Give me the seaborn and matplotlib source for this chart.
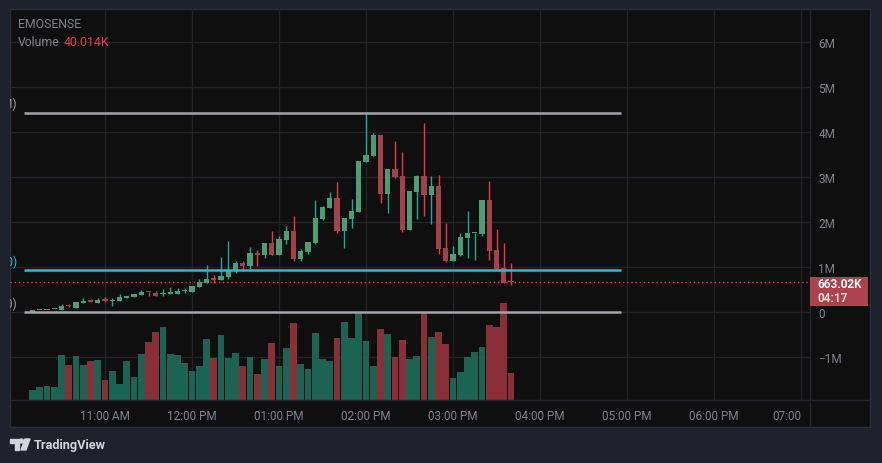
import matplotlib.pyplot as plt
import matplotlib.patches as mpatches
from matplotlib.lines import Line2D
import numpy as np
import pandas as pd
import seaborn as sns

# 5-minute candles, prices in millions
open_ = [0.01, 0.04, 0.04, 0.06, 0.05, 0.14, 0.09, 0.20, 0.27, 0.20,
         0.29, 0.24, 0.24, 0.31, 0.33, 0.38, 0.45, 0.42, 0.39, 0.41,
         0.40, 0.46, 0.44, 0.56, 0.64, 0.74, 0.71, 0.78, 0.91, 1.09,
         1.02, 1.31, 1.27, 1.53, 1.27, 1.60, 1.80, 1.18, 1.33, 1.53,
         2.07, 2.31, 2.53, 1.80, 2.07, 2.22, 3.33, 3.47, 3.93, 2.62,
         3.18, 3.02, 1.82, 2.67, 3.02, 2.60, 2.80, 1.42, 1.13, 1.27,
         1.64, 1.75, 1.73, 2.49, 1.38, 0.98, 0.67]
high = [0.05, 0.05, 0.05, 0.07, 0.18, 0.17, 0.22, 0.31, 0.29, 0.31,
        0.33, 0.31, 0.40, 0.36, 0.40, 0.49, 0.45, 0.47, 0.51, 0.56,
        0.53, 0.53, 0.58, 0.73, 1.04, 0.82, 1.22, 1.58, 1.13, 1.13,
        1.44, 1.38, 1.53, 1.80, 1.69, 1.91, 2.13, 1.40, 1.56, 2.49,
        2.36, 2.67, 2.89, 2.09, 2.51, 3.36, 4.42, 3.98, 3.93, 3.18,
        3.80, 3.56, 2.69, 3.04, 4.20, 3.02, 3.04, 1.98, 1.47, 1.76,
        2.24, 1.76, 2.49, 2.91, 1.84, 1.53, 1.09]
low = [0.01, 0.04, 0.04, 0.06, 0.05, 0.11, 0.09, 0.20, 0.22, 0.20,
       0.22, 0.13, 0.24, 0.31, 0.33, 0.38, 0.36, 0.36, 0.36, 0.41,
       0.40, 0.42, 0.44, 0.56, 0.64, 0.64, 0.71, 0.73, 0.87, 0.91,
       0.96, 1.02, 1.20, 1.27, 1.27, 1.51, 1.13, 1.13, 1.29, 1.51,
       2.04, 2.31, 1.76, 1.42, 1.87, 2.22, 3.33, 3.47, 2.42, 2.20,
       2.98, 1.78, 1.82, 2.07, 2.13, 1.96, 1.29, 1.11, 1.13, 1.24,
       1.20, 1.16, 1.69, 1.16, 0.96, 0.64, 0.60]
close = [0.05, 0.05, 0.05, 0.07, 0.13, 0.13, 0.22, 0.24, 0.22, 0.27,
         0.24, 0.27, 0.33, 0.36, 0.40, 0.44, 0.44, 0.36, 0.40, 0.43,
         0.47, 0.47, 0.58, 0.67, 0.73, 0.72, 0.80, 0.91, 1.09, 1.02,
         1.31, 1.27, 1.53, 1.27, 1.62, 1.80, 1.18, 1.36, 1.56, 2.09,
         2.33, 2.53, 1.80, 2.09, 2.24, 3.36, 3.49, 3.93, 2.62, 3.18,
         3.00, 1.82, 2.69, 3.02, 2.60, 2.80, 1.40, 1.13, 1.29, 1.67,
         1.76, 1.76, 2.49, 1.36, 0.96, 0.64, 0.663]
# volume in thousands
volume_k = [14.8, 19.3, 20.7, 19.3, 66.7, 51.9, 65.2, 51.9, 57.8, 59.3,
            29.6, 43.0, 23.7, 57.8, 34.1, 68.2, 86.0, 100.8, 108.2, 68.2,
            66.7, 54.8, 43.0, 50.4, 90.4, 62.2, 96.3, 62.2, 69.7, 50.4,
            63.7, 38.5, 60.8, 84.5, 50.4, 77.1, 114.1, 53.4, 45.9, 99.3,
            60.8, 57.8, 91.9, 115.6, 91.9, 128.9, 87.4, 50.4, 105.2, 97.8,
            63.7, 88.9, 60.8, 65.2, 128.9, 93.4, 100.8, 83.0, 32.6, 41.5,
            63.7, 71.1, 78.5, 111.2, 108.2, 143.8, 40.014]

symbol = "EMOSENSE"
last_volume = "40.014K"
last_price = "663.02K"
countdown = "04:17"
level_values = [4.42, 0.93, 0.0]
level_tags = ["(4.42M)", "(930.00)", "(0)"]
price_ticks = [-1, 0, 1, 2, 3, 4, 5, 6]
price_labels = ["\u22121M", "0", "1M", "2M", "3M", "4M", "5M", "6M"]
time_ticks = [11, 12, 13, 14, 15, 16, 17, 18, 19]
time_labels = ["11:00 AM", "12:00 PM", "01:00 PM", "02:00 PM", "03:00 PM",
               "04:00 PM", "05:00 PM", "06:00 PM", "07:00"]

# colours
BG = "#1e222d"
PANEL = "#0f0f10"
GRID = "#222327"
TXT = "#80838c"
UP_BODY, DOWN_BODY = "#4a9e74", "#a3404a"
UP_WICK, DOWN_WICK = "#22ab94", "#f23645"
UP_VOL, DOWN_VOL = "#1b6353", "#8a2e38"
LEVEL_COLORS = ["#a3a4ab", "#19c3e0", "#a3a4ab"]

sns.set_theme(style="dark")
plt.rcParams["font.family"] = ["Roboto", "DejaVu Sans"]

W, H = 882, 464
fig = plt.figure(figsize=(W / 100, H / 100), dpi=100, facecolor=BG)


def fx(px):
    return px / W


def fy(py):
    return 1 - py / H


# dark panel
fig.add_artist(mpatches.Rectangle((fx(10), fy(428)), 860 / W, 418 / H,
                                  transform=fig.transFigure, facecolor=PANEL,
                                  edgecolor="#2a2e39", lw=1, zorder=-5))

rect = [fx(10), fy(401), 800 / W, 391 / H]
xlim = (11 - 95 / 87, 11 + 705 / 87)
ylim = (-88 / 45, 303 / 45)

# background axes: grid only
bg = fig.add_axes(rect)
bg.set_facecolor("none")
bg.set_xlim(xlim)
bg.set_ylim(ylim)
for t in time_ticks:
    bg.axvline(t, color=GRID, lw=1)
for t in price_ticks:
    bg.axhline(t, color=GRID, lw=1)
bg.axis("off")

df = pd.DataFrame({"open": open_, "high": high, "low": low,
                   "close": close, "volume": volume_k})
stamps = pd.date_range("2024-01-02 10:10", periods=len(df), freq="5min")
df["t"] = stamps.hour + stamps.minute / 60
df["dir"] = np.where(df["close"] >= df["open"], "up", "down")

# volume overlay
axv = fig.add_axes(rect)
axv.set_facecolor("none")
sns.barplot(data=df, x="t", y="volume", hue="dir", native_scale=True,
            palette={"up": UP_VOL, "down": DOWN_VOL}, width=0.9, dodge=False,
            saturation=1, legend=False, errorbar=None, linewidth=0, ax=axv)
axv.set_xlim(xlim)
axv.set_ylim(0, 391 * 1.482)
axv.axis("off")

# candles
ax = fig.add_axes(rect)
ax.set_facecolor("none")
up = df["dir"] == "up"
ax.vlines(df["t"], df["low"], df["high"],
          colors=np.where(up, UP_WICK, DOWN_WICK), lw=1, zorder=2)
body_low = df[["open", "close"]].min(axis=1)
body_h = (df["open"] - df["close"]).abs().clip(lower=0.025)
ax.bar(df["t"], body_h, bottom=body_low, width=0.06,
       color=np.where(up, UP_BODY, DOWN_BODY), linewidth=0, zorder=3)

ax.hlines(level_values, 11 - 81 / 87, 11 + 516 / 87, colors=LEVEL_COLORS,
          lw=1.8, zorder=4)
# level tags, cut off by the left edge of the pane
tag_y = [4.64, 1.12, 0.19]
for v, tag, c in zip(tag_y, level_tags, LEVEL_COLORS):
    ax.text(11 - 88 / 87, v, tag, ha="right", va="center", color=c,
            fontsize=8.5, clip_on=True)
ax.axhline(0.66302, color=DOWN_WICK, lw=1, ls=(0, (1, 2)), zorder=4)

ax.set_xlim(xlim)
ax.set_ylim(ylim)
ax.set_yticks(price_ticks, price_labels)
ax.yaxis.tick_right()
ax.set_xticks(time_ticks, time_labels)
ax.xaxis.get_majorticklabels()[-1].set_horizontalalignment("right")
ax.tick_params(axis="y", length=0, pad=6, labelsize=8.5, labelcolor=TXT)
ax.tick_params(axis="x", length=0, pad=6.5, labelsize=8.5, labelcolor=TXT)
ax.grid(False)
for s in ax.spines.values():
    s.set_visible(False)

# separators of the price / time scales
fig.add_artist(Line2D([fx(810), fx(810)], [fy(10), fy(428)], color="#25262b", lw=1))
fig.add_artist(Line2D([fx(10), fx(870)], [fy(401), fy(401)], color="#25262b", lw=1))

# last price tag
fig.add_artist(mpatches.Rectangle((fx(810), fy(307)), 58 / W, 29 / H,
                                  transform=fig.transFigure, facecolor="#ab424c",
                                  edgecolor="none", zorder=5))
fig.text(fx(817), fy(285), last_price, color="white", fontsize=8.5,
         fontweight="bold", va="center", ha="left", zorder=6)
fig.text(fx(817), fy(298), countdown, color="#f1d6d8", fontsize=8.5,
         fontweight="bold", va="center", ha="left", zorder=6)

# legend text top-left
fig.text(fx(18), fy(24), symbol, color=TXT, fontsize=8.8, va="center")
fig.text(fx(18), fy(42), "Volume", color=TXT, fontsize=8.8, va="center")
fig.text(fx(64), fy(42), last_volume, color="#f23645", fontsize=8.8, va="center")

# TradingView mark
LOGO = "#d1d4dc"
fig.add_artist(mpatches.Polygon([(fx(10), fy(440)), (fx(19), fy(440)), (fx(19), fy(451)),
                                 (fx(15), fy(451)), (fx(15), fy(444)), (fx(10), fy(444))],
                                closed=True, transform=fig.transFigure, color=LOGO))
fig.add_artist(mpatches.Ellipse((fx(21.5), fy(442)), 4 / W, 4 / H,
                                transform=fig.transFigure, color=LOGO))
fig.add_artist(mpatches.Polygon([(fx(25), fy(440)), (fx(30), fy(440)), (fx(26), fy(451)),
                                 (fx(21), fy(451))],
                                closed=True, transform=fig.transFigure, color=LOGO))
fig.text(fx(34), fy(446), "TradingView", color=LOGO, fontsize=9.2,
         fontweight="semibold", va="center", ha="left")

fig.savefig("out.png", dpi=100, facecolor=BG)
